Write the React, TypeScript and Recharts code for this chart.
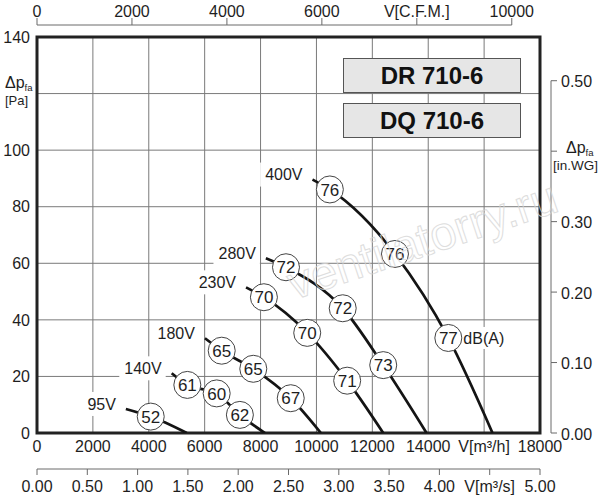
import React from 'react';
import { ComposedChart, Line, Scatter, XAxis, YAxis, CartesianGrid, ReferenceArea } from 'recharts';

const FONT = '"Liberation Sans", Arial, Helvetica, sans-serif';
const TEXT = '#1e1e1e';
const AXIS = '#6a6a6a';
const GRID = '#7a7a7a';

// ---- axes -------------------------------------------------------------
const flowMax = 18000; // m3/h
const pressureMax = 140; // Pa
const M3H_PER_CFM = 1.699;
const PA_PER_INWG = 249.089;

const flowTicks = [0, 2000, 4000, 6000, 8000, 10000, 12000, 14000, 16000, 18000];
const flowTickLabels = ['0', '2000', '4000', '6000', '8000', '10000', '12000', '14000', 'V[m³/h]', '18000'];
const pressureTicks = [0, 20, 40, 60, 80, 100, 120, 140];
const pressureTickLabels = ['0', '20', '40', '60', '80', '100', '', '140'];
const paTitle = ['Δp', 'fa', '[Pa]'];
const cfmTicks = [0, 2000, 4000, 6000, 8000, 10000];
const cfmTickLabels = ['0', '2000', '4000', '6000', 'V[C.F.M.]', '10000'];
const m3sTicks = [0, 0.5, 1, 1.5, 2, 2.5, 3, 3.5, 4, 4.5, 5];
const m3sTickLabels = ['0.00', '0.50', '1.00', '1.50', '2.00', '2.50', '3.00', '3.50', '4.00', 'V[m³/s]', '5.00'];
const inwgTicks = [0, 0.1, 0.2, 0.3, 0.4, 0.5];
const inwgTickLabels = ['0.00', '0.10', '0.20', '0.30', '', '0.50'];
const inwgTitle = ['Δp', 'fa', '[in.WG]'];

// ---- fan curves (q in m3/h, p in Pa) ---------------------------------
const curve400V = [
  { q: 9860, p: 89.6 },
  { q: 10480, p: 86.1 },
  { q: 12810, p: 63.3 },
  { q: 14720, p: 33.6 },
  { q: 16300, p: 0 },
];
const marks400V = [
  { q: 10480, p: 86.1, db: 76 },
  { q: 12810, p: 63.3, db: 76 },
  { q: 14720, p: 33.6, db: 77, unit: 'dB(A)' },
];
const curve280V = [
  { q: 8190, p: 61.8 },
  { q: 8910, p: 58.6 },
  { q: 10940, p: 44.1 },
  { q: 12390, p: 24.0 },
  { q: 13940, p: 0 },
];
const marks280V = [
  { q: 8910, p: 58.6, db: 72 },
  { q: 10940, p: 44.1, db: 72 },
  { q: 12390, p: 24.0, db: 73 },
];
const curve230V = [
  { q: 7480, p: 51.5 },
  { q: 8120, p: 48.0 },
  { q: 9670, p: 35.4 },
  { q: 11100, p: 18.5 },
  { q: 12390, p: 0 },
];
const marks230V = [
  { q: 8120, p: 48.0, db: 70 },
  { q: 9670, p: 35.4, db: 70 },
  { q: 11100, p: 18.5, db: 71 },
];
const curve180V = [
  { q: 6010, p: 33.5 },
  { q: 6610, p: 29.1 },
  { q: 7740, p: 22.7 },
  { q: 9080, p: 12.3 },
  { q: 10160, p: 0 },
];
const marks180V = [
  { q: 6610, p: 29.1, db: 65 },
  { q: 7740, p: 22.7, db: 65 },
  { q: 9080, p: 12.3, db: 67 },
];
const curve140V = [
  { q: 4820, p: 21.1 },
  { q: 5380, p: 17.0 },
  { q: 6430, p: 14.0 },
  { q: 7260, p: 6.4 },
  { q: 8160, p: 0 },
];
const marks140V = [
  { q: 5380, p: 17.0, db: 61 },
  { q: 6430, p: 14.0, db: 60 },
  { q: 7260, p: 6.4, db: 62 },
];
const curve95V = [
  { q: 3180, p: 8.5 },
  { q: 4070, p: 5.8 },
  { q: 5360, p: 0 },
];
const marks95V = [{ q: 4070, p: 5.8, db: 52 }];

const voltages = ['400V', '280V', '230V', '180V', '140V', '95V'];
const curves = [curve400V, curve280V, curve230V, curve180V, curve140V, curve95V];
const marks = [marks400V, marks280V, marks230V, marks180V, marks140V, marks95V];
const voltageLabels = voltages.map((text, i) => ({ q: curves[i][0].q, p: curves[i][0].p, text }));

const models = ['DR 710-6', 'DQ 710-6'];
const watermark = 'ventilatorry.ru';

// anchor rows so the secondary axes own data (invisible)
const cfmAnchor = cfmTicks.map((cfm) => ({ cfm, p: 0 }));
const m3sAnchor = m3sTicks.map((s) => ({ s, p: 0 }));

// ---- custom renderers --------------------------------------------------
const trace: { top: number | null; right: number | null } = { top: null, right: null };

function CfmTick(props: any) {
  const { x, y, payload } = props;
  const i = cfmTicks.indexOf(payload.value);
  const lineY = y - 12;
  const prev = i === 0 ? null : trace.top;
  trace.top = x;
  return (
    <g>
      {prev !== null && <line x1={prev} y1={lineY} x2={x} y2={lineY} stroke={AXIS} strokeWidth={1} />}
      <line x1={x} y1={lineY} x2={x} y2={lineY - 7} stroke={AXIS} strokeWidth={1} />
      <text x={x} y={lineY - 8} textAnchor="middle" fontSize={16} fill={TEXT} fontFamily={FONT}>
        {cfmTickLabels[i]}
      </text>
    </g>
  );
}

function InwgTick(props: any) {
  const { x, y, payload } = props;
  const i = inwgTicks.indexOf(payload.value);
  const ax = x + 11;
  const prev = i === 0 ? null : trace.right;
  trace.right = y;
  return (
    <g>
      {prev !== null && <line x1={ax} y1={prev} x2={ax} y2={y} stroke={AXIS} strokeWidth={1} />}
      <line x1={ax} y1={y} x2={ax + 6} y2={y} stroke={AXIS} strokeWidth={1} />
      {inwgTickLabels[i] ? (
        <text x={x + 21} y={y + 1} dy="0.36em" fontSize={16} fill={TEXT} fontFamily={FONT}>
          {inwgTickLabels[i]}
        </text>
      ) : (
        <g fontFamily={FONT} fill={TEXT}>
          <text x={x + 26} y={y - 4} dy="0.36em" fontSize={16}>
            {inwgTitle[0]}
            <tspan fontSize={9.5} dy={3}>{inwgTitle[1]}</tspan>
          </text>
          <text x={x + 13} y={y + 14} dy="0.36em" fontSize={13.5}>
            {inwgTitle[2]}
          </text>
        </g>
      )}
    </g>
  );
}

function PaTick(props: any) {
  const { x, y, payload } = props;
  const i = pressureTicks.indexOf(payload.value);
  if (pressureTickLabels[i]) {
    return (
      <text x={x} y={y} dy="0.36em" textAnchor="end" fontSize={16} fill={TEXT} fontFamily={FONT}>
        {pressureTickLabels[i]}
      </text>
    );
  }
  return (
    <g fontFamily={FONT} fill={TEXT}>
      <text x={x - 25} y={y - 11} dy="0.36em" fontSize={16}>
        {paTitle[0]}
        <tspan fontSize={9.5} dy={3}>{paTitle[1]}</tspan>
      </text>
      <text x={x - 25} y={y + 7} dy="0.36em" fontSize={13}>
        {paTitle[2]}
      </text>
    </g>
  );
}

function DbMarker(props: any) {
  const { cx, cy, payload } = props;
  if (cx == null || cy == null) return null;
  return (
    <g fontFamily={FONT}>
      <circle cx={cx} cy={cy} r={13.5} fill="#fff" stroke="#444" strokeWidth={1} />
      <text x={cx} y={cy} dy="0.36em" textAnchor="middle" fontSize={17} fill={TEXT}>
        {payload.db}
      </text>
      {payload.unit && (
        <g>
          <rect x={cx + 14.5} y={cy - 11} width={44} height={22} fill="#fff" />
          <text x={cx + 15} y={cy} dy="0.36em" fontSize={16} fill={TEXT}>
            {payload.unit}
          </text>
        </g>
      )}
    </g>
  );
}

function VoltageLabel(props: any) {
  const { cx, cy, payload } = props;
  if (cx == null || cy == null) return null;
  const w = payload.text.length * 9.6 + 8;
  const right = cx - 6;
  return (
    <g fontFamily={FONT}>
      <rect x={right - w} y={cy - 17} width={w} height={24} fill="#fff" />
      <text x={cx - 10} y={cy - 5} dy="0.36em" textAnchor="end" fontSize={16} fill={TEXT}>
        {payload.text}
      </text>
    </g>
  );
}

export default function App() {
  trace.top = null;
  trace.right = null;
  return (
    <div style={{ position: 'absolute', left: 0, top: 0, width: 600, height: 500, background: '#fff' }}>
      <ComposedChart width={600} height={500} margin={{ top: 0, right: 0, bottom: 0, left: 0 }}>
        <XAxis
          xAxisId="q"
          type="number"
          dataKey="q"
          domain={[0, flowMax]}
          allowDataOverflow
          ticks={flowTicks}
          interval={0}
          orientation="bottom"
          height={36}
          axisLine={false}
          tickLine={false}
          tickSize={0}
          tickMargin={8}
          tickFormatter={(v: number) => flowTickLabels[flowTicks.indexOf(v)]}
          tick={{ fontSize: 16, fill: TEXT, fontFamily: FONT }}
        />
        <XAxis
          xAxisId="s"
          type="number"
          dataKey="s"
          domain={[0, flowMax / 3600]}
          allowDataOverflow
          ticks={m3sTicks}
          interval={0}
          orientation="bottom"
          height={31}
          axisLine={{ stroke: AXIS, strokeWidth: 1 }}
          tickLine={{ stroke: AXIS, strokeWidth: 1 }}
          tickSize={6}
          tickMargin={6}
          tickFormatter={(v: number) => m3sTickLabels[m3sTicks.indexOf(v)]}
          tick={{ fontSize: 16, fill: TEXT, fontFamily: FONT }}
        />
        <XAxis
          xAxisId="cfm"
          type="number"
          dataKey="cfm"
          orientation="top"
          domain={[0, flowMax / M3H_PER_CFM]}
          allowDataOverflow
          ticks={cfmTicks}
          interval={0}
          height={37}
          axisLine={false}
          tickLine={false}
          tickSize={0}
          tickMargin={0}
          tick={<CfmTick />}
        />
        <YAxis
          yAxisId="pa"
          type="number"
          dataKey="p"
          domain={[0, pressureMax]}
          allowDataOverflow
          ticks={pressureTicks}
          interval={0}
          width={37}
          axisLine={false}
          tickLine={false}
          tickSize={0}
          tickMargin={7}
          tick={<PaTick />}
        />
        <YAxis
          yAxisId="inwg"
          type="number"
          orientation="right"
          domain={[0, pressureMax / PA_PER_INWG]}
          allowDataOverflow
          ticks={inwgTicks}
          interval={0}
          width={60}
          axisLine={false}
          tickLine={false}
          tickSize={0}
          tickMargin={0}
          tick={<InwgTick />}
        />
        <CartesianGrid xAxisId="q" yAxisId="pa" stroke={GRID} strokeWidth={1} />
        <ReferenceArea
          xAxisId="q"
          yAxisId="pa"
          x1={0}
          x2={flowMax}
          y1={0}
          y2={pressureMax}
          fill="none"
          fillOpacity={0}
          stroke="#222"
          strokeWidth={3}
          ifOverflow="visible"
        />
        <Line
          xAxisId="cfm"
          yAxisId="pa"
          data={cfmAnchor}
          dataKey="p"
          stroke="none"
          dot={false}
          activeDot={false}
          isAnimationActive={false}
        />
        <Line
          xAxisId="s"
          yAxisId="pa"
          data={m3sAnchor}
          dataKey="p"
          stroke="none"
          dot={false}
          activeDot={false}
          isAnimationActive={false}
        />
        {curves.map((c, i) => (
          <Line
            key={voltages[i]}
            xAxisId="q"
            yAxisId="pa"
            data={c}
            dataKey="p"
            type="monotone"
            stroke="#141414"
            strokeWidth={2.7}
            dot={false}
            activeDot={false}
            isAnimationActive={false}
          />
        ))}
        <Scatter
          xAxisId="q"
          yAxisId="pa"
          data={voltageLabels}
          dataKey="p"
          shape={<VoltageLabel />}
          isAnimationActive={false}
        />
        {marks.map((m, i) => (
          <Scatter
            key={'m' + voltages[i]}
            xAxisId="q"
            yAxisId="pa"
            data={m}
            dataKey="p"
            shape={<DbMarker />}
            isAnimationActive={false}
          />
        ))}
      </ComposedChart>
      {models.map((name, i) => (
        <div
          key={name}
          style={{
            position: 'absolute',
            left: 343,
            top: i === 0 ? 58 : 103,
            width: 176,
            height: 33,
            border: '1px solid #555',
            background: '#e6e6e6',
            display: 'flex',
            alignItems: 'center',
            justifyContent: 'center',
            fontFamily: FONT,
            fontWeight: 'bold',
            fontSize: 24,
            color: '#111',
          }}
        >
          {name}
        </div>
      ))}
      <svg
        width={600}
        height={500}
        style={{ position: 'absolute', left: 0, top: 0, pointerEvents: 'none' }}
      >
        <text
          x={294}
          y={300}
          transform="rotate(-18.5 294 300)"
          fontFamily={FONT}
          fontSize={47}
          fill="none"
          stroke="#d6d6d6"
          strokeWidth={1}
          opacity={0.8}
        >
          {watermark}
        </text>
      </svg>
    </div>
  );
}
